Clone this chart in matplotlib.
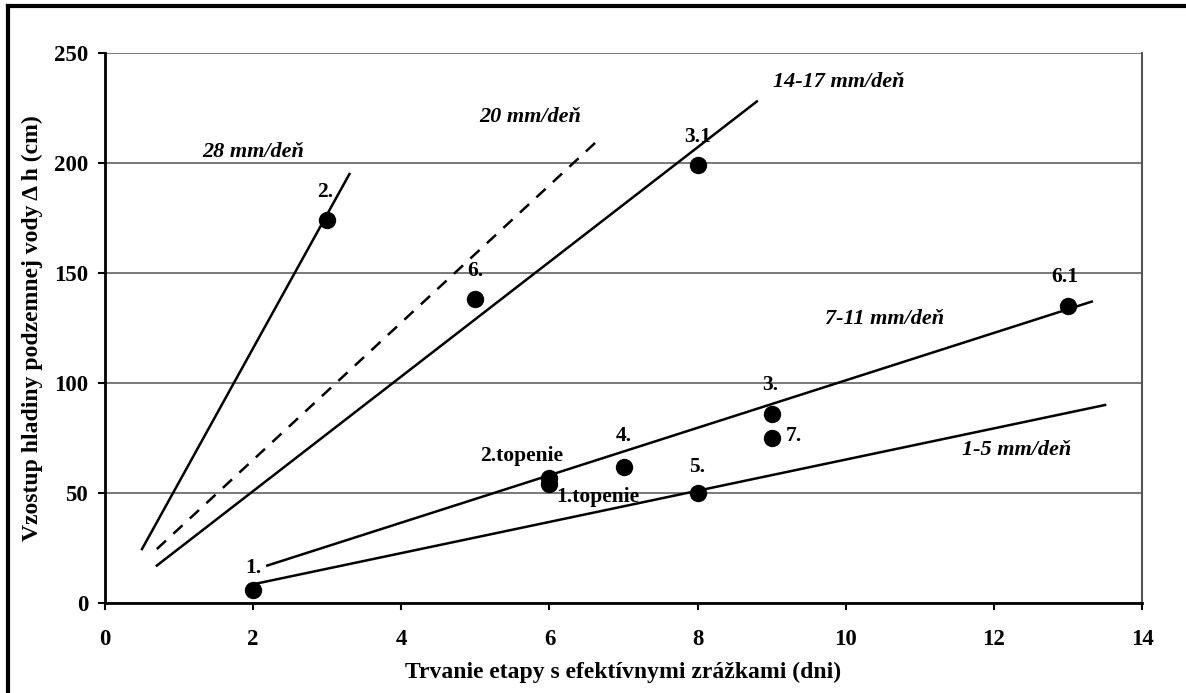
import numpy as np
import matplotlib.pyplot as plt
from matplotlib.lines import Line2D

plt.rcParams['font.family'] = ['Liberation Serif', 'DejaVu Serif']
plt.rcParams['font.weight'] = 'bold'

# body (trvanie, vzostup)
pt_x = [2, 3, 8, 5, 13, 9, 9, 7, 6, 6, 8]
pt_y = [6, 174, 199, 138, 135, 86, 75, 62, 57, 54, 50]
pt_lab = ['1.', '2.', '3.1', '6.', '6.1', '3.', '7.', '4.', '2.topenie', '1.topenie', '5.']
lab_x = [2.0, 2.97, 8.0, 5.0, 12.96, 8.98, 9.3, 7.0, 5.63, 6.65, 8.0]
lab_y = [16, 187, 212, 151, 148, 99, 76, 76, 67, 48, 62]

# trendove ciary (x0, x1, y0, y1)
line_names = ['28 mm/deň', '20 mm/deň', '14-17 mm/deň', '7-11 mm/deň', '1-5 mm/deň']
line_x = [[0.5, 3.3], [0.7, 6.66], [0.7, 8.8], [2.19, 13.32], [2.0, 13.5]]
line_y = [[24.5, 195], [24.5, 210.5], [17, 228], [17, 137], [8.5, 90]]
line_style = ['-', '--', '-', '-', '-']
name_x = [2.0, 5.74, 9.9, 10.52, 12.3]
name_y = [205, 221, 237, 129, 69.5]

fig = plt.figure(figsize=(11.86, 6.93), dpi=100)
ax = fig.add_axes([0.0885, 0.1299, 0.8745, 0.7936])

for i in range(len(line_names)):
    ax.plot(line_x[i], line_y[i], line_style[i], color='black', lw=1.8,
            dashes=(5, 4) if line_style[i] == '--' else (None, None), zorder=3)
    ax.text(name_x[i], name_y[i], line_names[i], fontsize=16, style='italic',
            fontweight='bold', ha='center', va='center')

ax.plot(pt_x, pt_y, 'o', color='black', markersize=11.5, zorder=4)
for i in range(len(pt_lab)):
    ax.text(lab_x[i], lab_y[i], pt_lab[i], fontsize=15.5, fontweight='bold',
            ha='center', va='center', zorder=5)

ax.set_xlim(0, 14)
ax.set_ylim(0, 250)
ax.set_xticks(range(0, 15, 2))
ax.set_yticks(range(0, 251, 50))
ax.yaxis.grid(True, color='#555555', lw=1.1)
ax.set_axisbelow(True)
ax.spines['top'].set_visible(False)
ax.spines['right'].set_color('#555555')
ax.spines['right'].set_linewidth(1.5)
ax.spines['left'].set_linewidth(2)
ax.spines['bottom'].set_linewidth(2)
ax.tick_params(axis='both', labelsize=16.5, width=1.5, length=5)
ax.tick_params(axis='y', pad=7)
ax.tick_params(axis='x', pad=14)
for lbl in ax.get_xticklabels() + ax.get_yticklabels():
    lbl.set_fontweight('bold')

ax.set_xlabel('Trvanie etapy s efektívnymi zrážkami (dni)', fontsize=17, fontweight='bold', labelpad=8)
ax.set_ylabel('Vzostup hladiny podzemnej vody \u0394 h (cm)', fontsize=17, fontweight='bold', labelpad=8)

# vonkajsi ramcek
fig.add_artist(Line2D([0.0068, 0.0068], [0, 0.9913], color='black', lw=3, transform=fig.transFigure))
fig.add_artist(Line2D([0.0068, 1.0], [0.9913, 0.9913], color='black', lw=3, transform=fig.transFigure))

plt.savefig('out.png', dpi=100)
